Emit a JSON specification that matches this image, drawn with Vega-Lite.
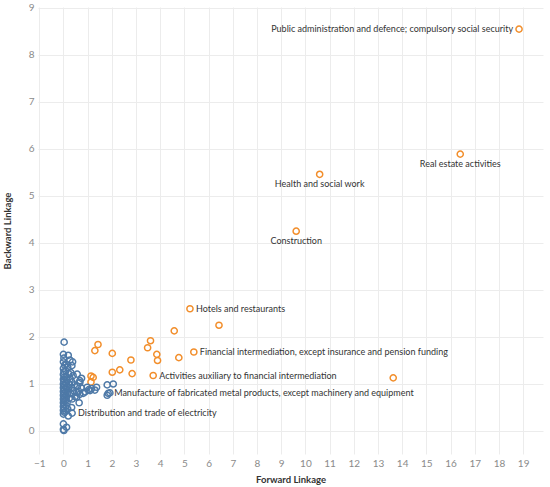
{
  "$schema": "https://vega.github.io/schema/vega-lite/v6.json",
  "autosize": "none",
  "padding": {"left": 38, "top": 7, "right": 7, "bottom": 33},
  "width": 505,
  "height": 447,
  "data": {
    "values": [
      {"sector": "Public administration and defence; compulsory social security", "forward": 18.83, "backward": 8.55, "group": "High"},
      {"sector": "Real estate activities", "forward": 16.40, "backward": 5.89, "group": "High"},
      {"sector": "Health and social work", "forward": 10.59, "backward": 5.46, "group": "High"},
      {"sector": "Construction", "forward": 9.62, "backward": 4.25, "group": "High"},
      {"sector": "Hotels and restaurants", "forward": 5.23, "backward": 2.60, "group": "High"},
      {"forward": 6.43, "backward": 2.25, "group": "High"},
      {"forward": 4.58, "backward": 2.13, "group": "High"},
      {"forward": 3.60, "backward": 1.92, "group": "High"},
      {"forward": 3.48, "backward": 1.77, "group": "High"},
      {"forward": 3.86, "backward": 1.63, "group": "High"},
      {"forward": 3.89, "backward": 1.50, "group": "High"},
      {"forward": 4.77, "backward": 1.56, "group": "High"},
      {"sector": "Financial intermediation, except insurance and pension funding", "forward": 5.39, "backward": 1.68, "group": "High"},
      {"forward": 2.79, "backward": 1.51, "group": "High"},
      {"forward": 2.02, "backward": 1.65, "group": "High"},
      {"forward": 1.43, "backward": 1.84, "group": "High"},
      {"forward": 1.30, "backward": 1.71, "group": "High"},
      {"forward": 2.02, "backward": 1.25, "group": "High"},
      {"forward": 2.33, "backward": 1.30, "group": "High"},
      {"forward": 2.84, "backward": 1.22, "group": "High"},
      {"sector": "Activities auxiliary to financial intermediation", "forward": 3.71, "backward": 1.18, "group": "High"},
      {"forward": 1.14, "backward": 1.17, "group": "High"},
      {"forward": 1.23, "backward": 1.14, "group": "High"},
      {"forward": 1.14, "backward": 1.04, "group": "High"},
      {"forward": 13.63, "backward": 1.13, "group": "High"},
      {"forward": 0.03, "backward": 1.89, "group": "Low"},
      {"forward": 0.00, "backward": 1.63, "group": "Low"},
      {"forward": 0.02, "backward": 1.55, "group": "Low"},
      {"forward": 0.00, "backward": 1.47, "group": "Low"},
      {"forward": 0.05, "backward": 1.40, "group": "Low"},
      {"forward": 0.00, "backward": 1.33, "group": "Low"},
      {"forward": 0.02, "backward": 1.26, "group": "Low"},
      {"forward": 0.00, "backward": 1.20, "group": "Low"},
      {"forward": 0.04, "backward": 1.15, "group": "Low"},
      {"forward": 0.00, "backward": 1.10, "group": "Low"},
      {"forward": 0.02, "backward": 1.05, "group": "Low"},
      {"forward": 0.00, "backward": 1.00, "group": "Low"},
      {"forward": 0.05, "backward": 0.96, "group": "Low"},
      {"forward": 0.00, "backward": 0.92, "group": "Low"},
      {"forward": 0.03, "backward": 0.88, "group": "Low"},
      {"forward": 0.00, "backward": 0.84, "group": "Low"},
      {"forward": 0.02, "backward": 0.80, "group": "Low"},
      {"forward": 0.00, "backward": 0.76, "group": "Low"},
      {"forward": 0.04, "backward": 0.72, "group": "Low"},
      {"forward": 0.00, "backward": 0.68, "group": "Low"},
      {"forward": 0.02, "backward": 0.64, "group": "Low"},
      {"forward": 0.00, "backward": 0.60, "group": "Low"},
      {"forward": 0.03, "backward": 0.56, "group": "Low"},
      {"forward": 0.00, "backward": 0.52, "group": "Low"},
      {"forward": 0.02, "backward": 0.48, "group": "Low"},
      {"forward": 0.00, "backward": 0.44, "group": "Low"},
      {"forward": 0.04, "backward": 0.40, "group": "Low"},
      {"forward": 0.00, "backward": 0.36, "group": "Low"},
      {"forward": 0.00, "backward": 0.15, "group": "Low"},
      {"forward": 0.13, "backward": 0.08, "group": "Low"},
      {"forward": 0.00, "backward": 0.03, "group": "Low"},
      {"forward": 0.02, "backward": 0.01, "group": "Low"},
      {"forward": 0.20, "backward": 1.61, "group": "Low"},
      {"forward": 0.27, "backward": 1.51, "group": "Low"},
      {"forward": 0.12, "backward": 1.42, "group": "Low"},
      {"forward": 0.18, "backward": 1.36, "group": "Low"},
      {"forward": 0.10, "backward": 1.28, "group": "Low"},
      {"forward": 0.22, "backward": 1.22, "group": "Low"},
      {"forward": 0.12, "backward": 1.14, "group": "Low"},
      {"forward": 0.28, "backward": 1.11, "group": "Low"},
      {"forward": 0.15, "backward": 1.08, "group": "Low"},
      {"forward": 0.10, "backward": 1.02, "group": "Low"},
      {"forward": 0.25, "backward": 0.99, "group": "Low"},
      {"forward": 0.15, "backward": 0.95, "group": "Low"},
      {"forward": 0.12, "backward": 0.90, "group": "Low"},
      {"forward": 0.22, "backward": 0.87, "group": "Low"},
      {"forward": 0.10, "backward": 0.83, "group": "Low"},
      {"forward": 0.18, "backward": 0.79, "group": "Low"},
      {"forward": 0.12, "backward": 0.74, "group": "Low"},
      {"forward": 0.25, "backward": 0.70, "group": "Low"},
      {"forward": 0.10, "backward": 0.66, "group": "Low"},
      {"forward": 0.15, "backward": 0.60, "group": "Low"},
      {"forward": 0.12, "backward": 0.54, "group": "Low"},
      {"forward": 0.18, "backward": 0.47, "group": "Low"},
      {"forward": 0.10, "backward": 0.42, "group": "Low"},
      {"forward": 0.20, "backward": 0.32, "group": "Low"},
      {"forward": 0.38, "backward": 1.47, "group": "Low"},
      {"forward": 0.35, "backward": 1.39, "group": "Low"},
      {"forward": 0.31, "backward": 1.24, "group": "Low"},
      {"forward": 0.40, "backward": 1.18, "group": "Low"},
      {"forward": 0.35, "backward": 1.04, "group": "Low"},
      {"forward": 0.45, "backward": 0.98, "group": "Low"},
      {"forward": 0.33, "backward": 0.92, "group": "Low"},
      {"forward": 0.42, "backward": 0.86, "group": "Low"},
      {"forward": 0.30, "backward": 0.80, "group": "Low"},
      {"forward": 0.48, "backward": 0.73, "group": "Low"},
      {"forward": 0.36, "backward": 0.68, "group": "Low"},
      {"forward": 0.34, "backward": 0.50, "group": "Low"},
      {"sector": "Distribution and trade of electricity", "forward": 0.36, "backward": 0.38, "group": "Low"},
      {"forward": 0.57, "backward": 1.21, "group": "Low"},
      {"forward": 0.75, "backward": 1.12, "group": "Low"},
      {"forward": 0.68, "backward": 1.07, "group": "Low"},
      {"forward": 0.68, "backward": 1.03, "group": "Low"},
      {"forward": 0.58, "backward": 0.95, "group": "Low"},
      {"forward": 0.75, "backward": 0.91, "group": "Low"},
      {"forward": 0.62, "backward": 0.85, "group": "Low"},
      {"forward": 0.55, "backward": 0.82, "group": "Low"},
      {"forward": 0.68, "backward": 0.78, "group": "Low"},
      {"forward": 0.55, "backward": 0.72, "group": "Low"},
      {"forward": 0.65, "backward": 0.60, "group": "Low"},
      {"forward": 0.98, "backward": 0.93, "group": "Low"},
      {"forward": 1.16, "backward": 0.90, "group": "Low"},
      {"forward": 1.37, "backward": 0.93, "group": "Low"},
      {"forward": 1.30, "backward": 0.87, "group": "Low"},
      {"forward": 1.10, "backward": 0.86, "group": "Low"},
      {"forward": 1.05, "backward": 0.88, "group": "Low"},
      {"forward": 0.89, "backward": 0.83, "group": "Low"},
      {"forward": 0.82, "backward": 0.80, "group": "Low"},
      {"forward": 1.81, "backward": 0.98, "group": "Low"},
      {"forward": 2.06, "backward": 1.00, "group": "Low"},
      {"forward": 1.81, "backward": 0.76, "group": "Low"},
      {"forward": 1.92, "backward": 0.81, "group": "Low"},
      {"sector": "Manufacture of fabricated metal products, except machinery and equipment", "forward": 1.85, "backward": 0.80, "group": "Low"}
    ]
  },
  "encoding": {
    "x": {
      "field": "forward",
      "type": "quantitative",
      "title": "Forward Linkage",
      "scale": {"domain": [-1.05, 19.82], "nice": false, "zero": false},
      "axis": {"values": [-1, 0, 1, 2, 3, 4, 5, 6, 7, 8, 9, 10, 11, 12, 13, 14, 15, 16, 17, 18, 19], "labelPadding": 4, "titlePadding": 6}
    },
    "y": {
      "field": "backward",
      "type": "quantitative",
      "title": "Backward Linkage",
      "scale": {"domain": [-0.49, 9.02], "nice": false, "zero": false},
      "axis": {"values": [0, 1, 2, 3, 4, 5, 6, 7, 8, 9], "labelPadding": 4, "titlePadding": 16}
    }
  },
  "layer": [
    {
      "mark": {"type": "point", "filled": false, "strokeWidth": 1.5, "size": 38, "opacity": 1},
      "encoding": {
        "color": {
          "field": "group",
          "type": "nominal",
          "scale": {"domain": ["High", "Low"], "range": ["#F28E2B", "#4E79A7"]},
          "legend": null
        }
      }
    },
    {
      "transform": [{"filter": {"field": "sector", "oneOf": ["Public administration and defence; compulsory social security"]}}],
      "mark": {"type": "text", "align": "right", "baseline": "middle", "dx": -6},
      "encoding": {"text": {"field": "sector"}}
    },
    {
      "transform": [{"filter": {"field": "sector", "oneOf": ["Real estate activities", "Health and social work", "Construction"]}}],
      "mark": {"type": "text", "align": "center", "baseline": "middle", "dy": 10},
      "encoding": {"text": {"field": "sector"}}
    },
    {
      "transform": [{"filter": {"field": "sector", "oneOf": ["Hotels and restaurants", "Financial intermediation, except insurance and pension funding", "Activities auxiliary to financial intermediation", "Manufacture of fabricated metal products, except machinery and equipment", "Distribution and trade of electricity"]}}],
      "mark": {"type": "text", "align": "left", "baseline": "middle", "dx": 6},
      "encoding": {"text": {"field": "sector"}}
    }
  ],
  "config": {
    "view": {"stroke": null},
    "font": "Lato",
    "text": {"font": "Lato", "fontSize": 9, "color": "#333333"},
    "axis": {
      "domain": false,
      "ticks": false,
      "grid": true,
      "gridColor": "#ececec",
      "gridWidth": 1,
      "labelColor": "#8a8a8a",
      "labelFont": "Lato",
      "labelFontSize": 10,
      "titleFont": "Lato",
      "titleFontSize": 9.5,
      "titleFontWeight": "bold",
      "titleColor": "#333333"
    }
  }
}
